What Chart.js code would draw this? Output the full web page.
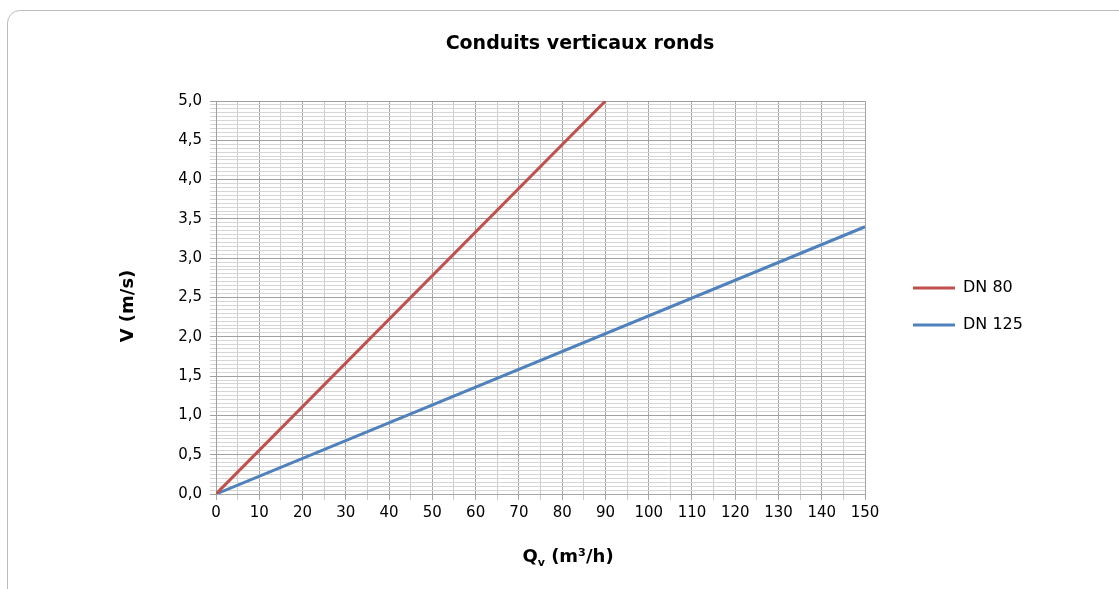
<!DOCTYPE html>
<html lang="fr">
  <head>
    <meta charset="utf-8" />
    <script src="https://cdn.jsdelivr.net/npm/chart.js@4.4.1/dist/chart.umd.min.js"></script>
    <style>
      html, body { margin: 0; padding: 0; overflow: hidden; background: #fff; }
      #card {
        position: absolute; left: 7px; top: 10px; width: 1140px; height: 700px;
        border: 1.5px solid #bdbdbd; border-radius: 13px; box-sizing: border-box;
      }
      #wrap { position: absolute; left: 0; top: 0; width: 1119px; height: 589px; }
    </style>
  </head>

  <body>
    <div id="card"></div>
    <div id="wrap"><canvas id="chart"></canvas></div>

    <script>
      // valeurs
      const seriesNames = ["DN 80", "DN 125"];
      const qDN80 = [0, 90];      // m3/h
      const vDN80 = [0, 5.0];     // m/s
      const qDN125 = [0, 150];
      const vDN125 = [0, 3.4];
      const xMin = 0, xMax = 150, xStep = 5, xLabelStep = 10;
      const yMin = 0, yMax = 5, yStep = 0.05, yLabelStep = 0.5;

      const toPoints = (qs, vs) => qs.map((q, i) => ({ x: q, y: vs[i] }));

      Chart.defaults.font.family = '"DejaVu Sans", sans-serif';
      Chart.defaults.color = "#000";

      // position des blocs comme sur l'original
      const placeBoxes = {
        id: "placeBoxes",
        afterLayout(chart) {
          const lg = chart.legend;
          lg.left = 892; lg.right = lg.left + lg.width;
          lg.top = 259; lg.bottom = lg.top + lg.height;
          const t = chart.titleBlock;
          t.left = 41; t.right = chart.width;
        },
        afterDraw(chart) {
          const ctx = chart.ctx;
          const big = 'bold 18px "DejaVu Sans"';
          const small = 'bold 11px "DejaVu Sans"';
          ctx.save();
          ctx.fillStyle = "#000";
          // titre de l'axe Y
          ctx.font = big;
          ctx.textAlign = "center";
          ctx.textBaseline = "middle";
          ctx.translate(128, 306);
          ctx.rotate(-Math.PI / 2);
          ctx.fillText("V (m/s)", 0, 0);
          ctx.setTransform(1, 0, 0, 1, 0, 0);
          ctx.scale(chart.currentDevicePixelRatio, chart.currentDevicePixelRatio);
          // titre de l'axe X avec indice
          const parts = [["Q", big, 0], ["v", small, 4], [" (m³/h)", big, 0]];
          ctx.textAlign = "left";
          ctx.textBaseline = "alphabetic";
          let total = 0;
          parts.forEach(p => { ctx.font = p[1]; total += ctx.measureText(p[0]).width; });
          let x = 568 - total / 2;
          parts.forEach(p => {
            ctx.font = p[1];
            ctx.fillText(p[0], x, 562 + p[2]);
            x += ctx.measureText(p[0]).width;
          });
          ctx.restore();
        }
      };

      const isMult = (v, step) => Math.abs(v / step - Math.round(v / step)) < 1e-6;

      new Chart(document.getElementById("chart"), {
        type: "line",
        data: {
          datasets: [
            {
              label: seriesNames[0],
              data: toPoints(qDN80, vDN80),
              borderColor: "#c0504d",
              backgroundColor: "#c0504d",
              borderWidth: 3,
              pointRadius: 0,
            },
            {
              label: seriesNames[1],
              data: toPoints(qDN125, vDN125),
              borderColor: "#4f81bd",
              backgroundColor: "#4f81bd",
              borderWidth: 3,
              pointRadius: 0,
            },
          ],
        },
        options: {
          responsive: true,
          maintainAspectRatio: false,
          animation: false,
          layout: { padding: { left: 0, right: 113, top: 0, bottom: 0 } },
          plugins: {
            title: {
              display: true,
              text: "Conduits verticaux ronds",
              color: "#000",
              font: { size: 19, weight: "bold" },
              padding: { top: 32.6, bottom: 45.6 },
            },
            legend: {
              position: "right",
              align: "start",
              labels: {
                boxWidth: 42,
                boxHeight: 0,
                padding: 21,
                color: "#000",
                font: { size: 16 },
              },
            },
            tooltip: { enabled: false },
          },
          scales: {
            x: {
              type: "linear",
              min: xMin,
              max: xMax,
              afterFit(s) { s.height = 95; },
              afterBuildTicks(s) {
                s.ticks = [];
                for (let v = xMin; v <= xMax + 1e-9; v += xStep) s.ticks.push({ value: v });
              },
              ticks: {
                autoSkip: false,
                maxRotation: 0,
                padding: 4,
                font: { size: 15 },
                callback: (v) => (isMult(v, xLabelStep) ? String(v) : ""),
              },
              grid: {
                color: (c) => (isMult(c.tick.value, xLabelStep) ? "#a6a6a6" : "#cccccc"),
                tickLength: 6,
              },
              border: { color: "#a6a6a6" },
            },
            y: {
              min: yMin,
              max: yMax,
              afterFit(s) { s.width = 216; },
              afterBuildTicks(s) {
                s.ticks = [];
                const n = Math.round((yMax - yMin) / yStep);
                for (let i = 0; i <= n; i++) s.ticks.push({ value: yMin + i * yStep });
              },
              ticks: {
                autoSkip: false,
                padding: 8,
                font: { size: 15 },
                callback: (v) => (isMult(v, yLabelStep) ? v.toFixed(1).replace(".", ",") : ""),
              },
              grid: {
                color: (c) => (isMult(c.tick.value, yLabelStep) ? "#a0a0a0" : "#d6d6d6"),
                tickLength: 6,
              },
              border: { color: "#a0a0a0" },
            },
          },
        },
        plugins: [placeBoxes],
      });
    </script>
  </body>
</html>
